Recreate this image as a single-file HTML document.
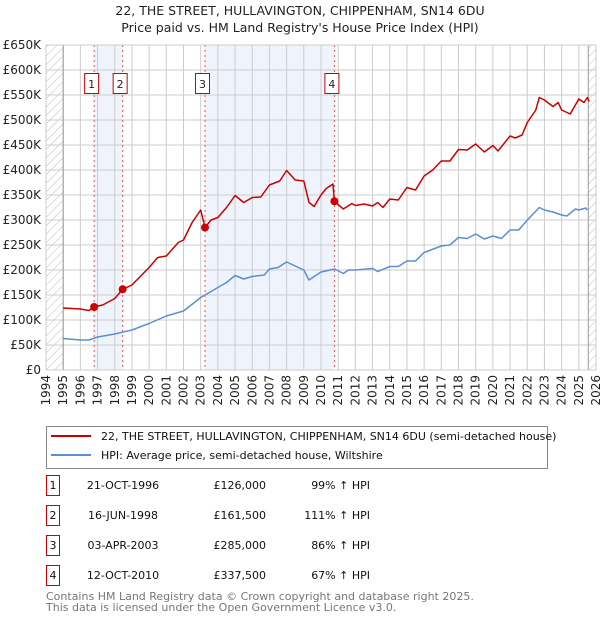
<!DOCTYPE html>
<html><head><meta charset="utf-8"><style>
body{margin:0;width:600px;height:620px;background:#fff;font-family:"Liberation Sans","DejaVu Sans",sans-serif;overflow:hidden}
svg text{font-family:"DejaVu Sans","Liberation Sans",sans-serif}
</style></head><body>
<svg id="c" width="600" height="620" xmlns="http://www.w3.org/2000/svg">
<text x="300" y="15" text-anchor="middle" font-size="12.5" fill="#222">22, THE STREET, HULLAVINGTON, CHIPPENHAM, SN14 6DU</text>
<text x="300" y="32" text-anchor="middle" font-size="12.5" fill="#222">Price paid vs. HM Land Registry's House Price Index (HPI)</text>
<defs><pattern id="h" width="6" height="6" patternUnits="userSpaceOnUse" patternTransform="rotate(45)"><line x1="0" y1="0" x2="0" y2="6" stroke="#bbb" stroke-width="1"/></pattern></defs>
<g id="plot"></g>
<g>
<rect x="46.5" y="426.5" width="501" height="42" fill="#fff" stroke="#888"/>
<line x1="51" y1="436" x2="91" y2="436" stroke="#cc0000" stroke-width="2"/>
<text x="101" y="440" font-size="11" fill="#111">22, THE STREET, HULLAVINGTON, CHIPPENHAM, SN14 6DU (semi-detached house)</text>
<line x1="51" y1="455" x2="91" y2="455" stroke="#5b8fd4" stroke-width="2"/>
<text x="101" y="459" font-size="11" fill="#111">HPI: Average price, semi-detached house, Wiltshire</text>
</g>
<g id="tbl" font-size="11" fill="#111"></g>
<text x="46" y="600" font-size="11" fill="#777">Contains HM Land Registry data © Crown copyright and database right 2025.</text>
<text x="46" y="611" font-size="11" fill="#777">This data is licensed under the Open Government Licence v3.0.</text>
</svg>
<script>
const hpiYears=[1995,1996,1996.5,1997,1998,1999,2000,2001,2002,2003,2003.5,2004,2004.5,2005,2005.5,2006,2006.7,2007,2007.5,2008,2008.5,2009,2009.3,2010,2010.8,2011.3,2011.6,2012,2013,2013.3,2014,2014.5,2015,2015.5,2016,2017,2017.5,2018,2018.5,2019,2019.5,2020,2020.5,2021,2021.5,2022,2022.7,2023,2023.5,2024,2024.3,2024.8,2025,2025.4,2025.5];
const hpiValues=[63,60,60,66,72,80,93,108,118,145,155,165,175,189,182,187,190,202,205,216,208,200,180,196,202,193,200,200,203,197,207,207,218,218,235,248,250,265,263,272,262,268,263,280,280,300,325,320,316,310,308,322,320,324,320];
const propYears=[1995,1996,1996.5,1996.8,1997.3,1998,1998.46,1999,2000,2000.5,2001,2001.7,2002,2002.5,2003,2003.25,2003.6,2004,2004.5,2005,2005.5,2006,2006.5,2007,2007.6,2008,2008.5,2009,2009.3,2009.6,2010,2010.3,2010.7,2010.78,2011.3,2011.8,2012,2012.5,2013,2013.3,2013.6,2014,2014.5,2015,2015.5,2016,2016.5,2017,2017.5,2018,2018.5,2019,2019.5,2020,2020.3,2021,2021.3,2021.7,2022,2022.5,2022.7,2023,2023.5,2023.8,2024,2024.5,2025,2025.3,2025.5,2025.6];
const propValues=[124,122,119,126,130,143,161.5,170,205,225,228,255,260,295,320,285,300,305,325,349,335,345,346,370,378,399,380,378,335,327,350,363,372,337.5,322,333,329,332,328,335,325,342,340,365,360,388,400,418,418,441,440,452,436,449,438,468,464,470,495,520,545,540,527,535,520,512,542,535,545,537];
const saleLabels=["1","2","3","4"];
const saleYears=[1996.8,1998.46,2003.25,2010.78];
const salePrices=[126,161.5,285,337.5];
const saleDates=["21-OCT-1996","16-JUN-1998","03-APR-2003","12-OCT-2010"];
const salePriceText=["£126,000","£161,500","£285,000","£337,500"];
const salePct=["99% ↑ HPI","111% ↑ HPI","86% ↑ HPI","67% ↑ HPI"];
const yTicks=[0,50,100,150,200,250,300,350,400,450,500,550,600,650];
const yTickLabels=["£0","£50K","£100K","£150K","£200K","£250K","£300K","£350K","£400K","£450K","£500K","£550K","£600K","£650K"];
const xMin=1994,xMax=2026,yMax=650;
const L=46,R=596,T=45,B=370;
const X=v=>L+(v-xMin)/(xMax-xMin)*(R-L);
const Y=v=>B-v/yMax*(B-T);
const NS="http://www.w3.org/2000/svg";
const g=document.getElementById('plot');
function mk(t,a,p){const e=document.createElementNS(NS,t);for(const k in a)e.setAttribute(k,a[k]);(p||g).appendChild(e);return e;}
let s=mk('rect',{x:X(saleYears[0]),y:T,width:X(saleYears[1])-X(saleYears[0]),height:B-T,fill:'#eef3fc'});


s=mk('rect',{x:X(saleYears[2]),y:T,width:X(saleYears[3])-X(saleYears[2]),height:B-T,fill:'#eef3fc'});


s=mk('rect',{x:L,y:T,width:X(1995)-L,height:B-T,fill:'url(#h)'});


s=mk('rect',{x:X(2025.55),y:T,width:R-X(2025.55),height:B-T,fill:'url(#h)'});


for(let i=0;i<yTicks.length;i++){
 const y=Y(yTicks[i]);
 const ln=mk('line',{x1:L,x2:R,y1:y,y2:y,stroke:'#ccc','stroke-width':1});
 
 
 const t=mk('text',{x:L-5,y:y+4,'text-anchor':'end','font-size':12,fill:'#222'});
 t.textContent=yTickLabels[i];
 
 
}
for(let yr=xMin;yr<=xMax;yr++){
 const x=X(yr);
 const ln=mk('line',{x1:x,x2:x,y1:T,y2:B,stroke:'#ccc','stroke-width':1});
 
 
 const t=mk('text',{x:0,y:0,'text-anchor':'end','font-size':12,fill:'#222',transform:`translate(${x+4},${B+5}) rotate(-90)`});
 t.textContent=yr;
 
 
}
mk('line',{x1:X(1995),x2:X(1995),y1:T,y2:B,stroke:'#999'});
mk('line',{x1:X(2025.55),x2:X(2025.55),y1:T,y2:B,stroke:'#999'});
for(let i=0;i<saleYears.length;i++){
 const x=X(saleYears[i]);
 const ln=mk('line',{x1:x,x2:x,y1:T,y2:B,stroke:'#e05555','stroke-dasharray':'2,3','stroke-width':1});
 
 
 const r=mk('rect',{x:x-9.5,y:73.5,width:14,height:20,fill:'#fff',stroke:'#cc0000'});
 
 
 const t=mk('text',{x:x-2.5,y:88,'text-anchor':'middle','font-size':11,fill:'#222'});
 t.textContent=saleLabels[i];
 
 
}
function path(xs,vs,c,name){
 const d=xs.map((v,i)=>(i?'L':'M')+X(v).toFixed(1)+','+Y(vs[i]).toFixed(1)).join('');
 const p=mk('path',{d,fill:'none',stroke:c,'stroke-width':1.5,'stroke-linejoin':'round'});
 
 
}
path(hpiYears,hpiValues,'#5b8fd4','hpi-line');
path(propYears,propValues,'#cc0000','property-price-line');
for(let i=0;i<saleYears.length;i++){
 const c=mk('circle',{cx:X(saleYears[i]),cy:Y(salePrices[i]),r:4,fill:'#cc0000'});
 
 
}
mk('rect',{x:L,y:T,width:R-L,height:B-T,fill:'none',stroke:'#ccc'});
const tb=document.getElementById('tbl');
for(let i=0;i<saleLabels.length;i++){
 const y=483+i*30;
 const r=mk('rect',{x:46.5,y:y-7.5,width:13,height:20,fill:'#fff',stroke:'#cc0000'},tb);
 
 
 const cells=[[53,'middle',saleLabels[i],'table-sale-number'],[123,'middle',saleDates[i],'table-sale-date'],[266,'end',salePriceText[i],'table-sale-price'],[370,'end',salePct[i],'table-sale-hpi-change']];
 for(const [x,a,txt,n] of cells){
  const t=mk('text',{x,y:y+6,'text-anchor':a},tb);
  t.textContent=txt;
  
  
 }
}
</script>
</body></html>
